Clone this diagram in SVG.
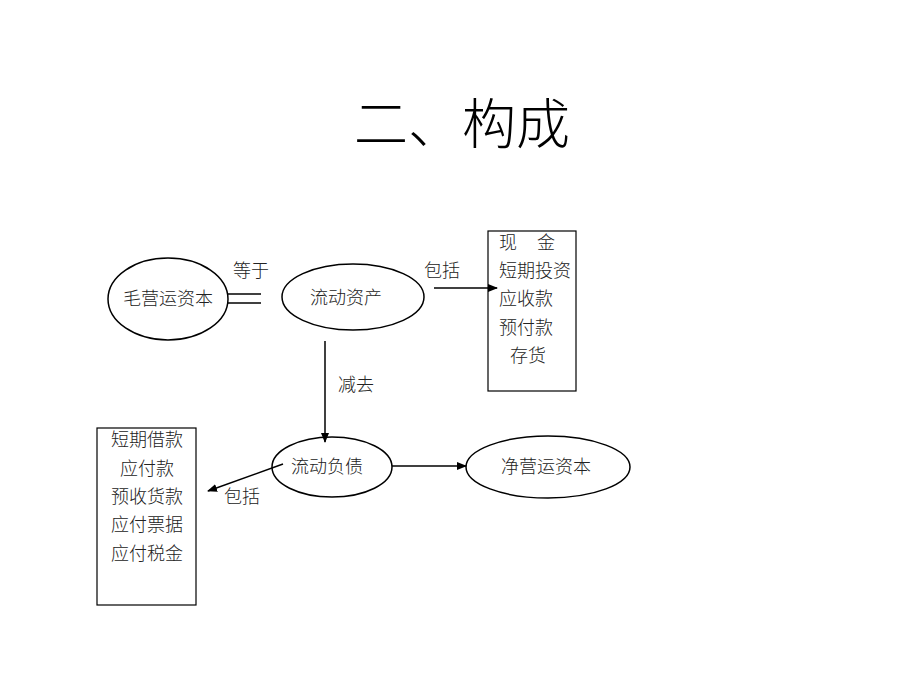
<svg xmlns="http://www.w3.org/2000/svg" width="920" height="690" viewBox="0 0 920 690">
<defs>
<marker id="ah" markerWidth="10" markerHeight="8" refX="9" refY="4" orient="auto" markerUnits="userSpaceOnUse">
<path d="M0,0 L10,4 L0,8 Z" fill="#000"/>
</marker>
<style>
.t{font-family:"Noto Sans CJK SC","Noto Sans CJK JP",sans-serif;font-size:18px;fill:#222;font-weight:300}
.title{font-family:"Noto Sans CJK SC",sans-serif;font-size:54px;fill:#000;font-weight:300}
.n{fill:#fff;stroke:#000;stroke-width:1.5}
.b{fill:#fff;stroke:#000;stroke-width:1.2}
.c{stroke:#000;stroke-width:1.5;fill:none}
</style>
</defs>
<rect width="920" height="690" fill="#fff"/>
<text class="title" x="462" y="144" text-anchor="middle">二、构成</text>
<g id="gross">
<ellipse class="n" cx="168" cy="299" rx="60" ry="41"/>
<text class="t" x="168" y="305" text-anchor="middle">毛营运资本</text>
</g>
<g id="current-assets">
<ellipse class="n" cx="353" cy="297" rx="71" ry="33"/>
<text class="t" x="346" y="304" text-anchor="middle">流动资产</text>
</g>
<g id="assets-list">
<rect class="b" x="488" y="231" width="88" height="160"/>
<text class="t" x="499" y="249">现</text>
<text class="t" x="537" y="249">金</text>
<text class="t" x="499" y="277">短期投资</text>
<text class="t" x="499" y="305">应收款</text>
<text class="t" x="499" y="334">预付款</text>
<text class="t" x="510" y="362">存货</text>
</g>
<g id="current-liabilities">
<ellipse class="n" cx="332" cy="467" rx="60" ry="30"/>
<text class="t" x="327" y="473" text-anchor="middle">流动负债</text>
</g>
<g id="net">
<ellipse class="n" cx="548" cy="467" rx="82" ry="31"/>
<text class="t" x="546" y="473" text-anchor="middle">净营运资本</text>
</g>
<g id="liabilities-list">
<rect class="b" x="97" y="428" width="99" height="177"/>
<text class="t" x="147" y="446" text-anchor="middle">短期借款</text>
<text class="t" x="147" y="475" text-anchor="middle">应付款</text>
<text class="t" x="147" y="503" text-anchor="middle">预收货款</text>
<text class="t" x="147" y="531" text-anchor="middle">应付票据</text>
<text class="t" x="147" y="560" text-anchor="middle">应付税金</text>
</g>
<g id="connectors">
<line class="c" x1="228" y1="294" x2="261" y2="294"/>
<line class="c" x1="228" y1="303" x2="261" y2="303"/>
<text class="t" x="251" y="277" text-anchor="middle">等于</text>
<line class="c" x1="434" y1="288" x2="497" y2="288" marker-end="url(#ah)"/>
<text class="t" x="442" y="277" text-anchor="middle">包括</text>
<line class="c" x1="325" y1="341" x2="325" y2="442" marker-end="url(#ah)"/>
<text class="t" x="356" y="391" text-anchor="middle">减去</text>
<line class="c" x1="392" y1="466" x2="466" y2="466" marker-end="url(#ah)"/>
<line class="c" x1="283" y1="464" x2="208" y2="491" marker-end="url(#ah)"/>
<text class="t" x="242" y="503" text-anchor="middle">包括</text>
</g>
</svg>
